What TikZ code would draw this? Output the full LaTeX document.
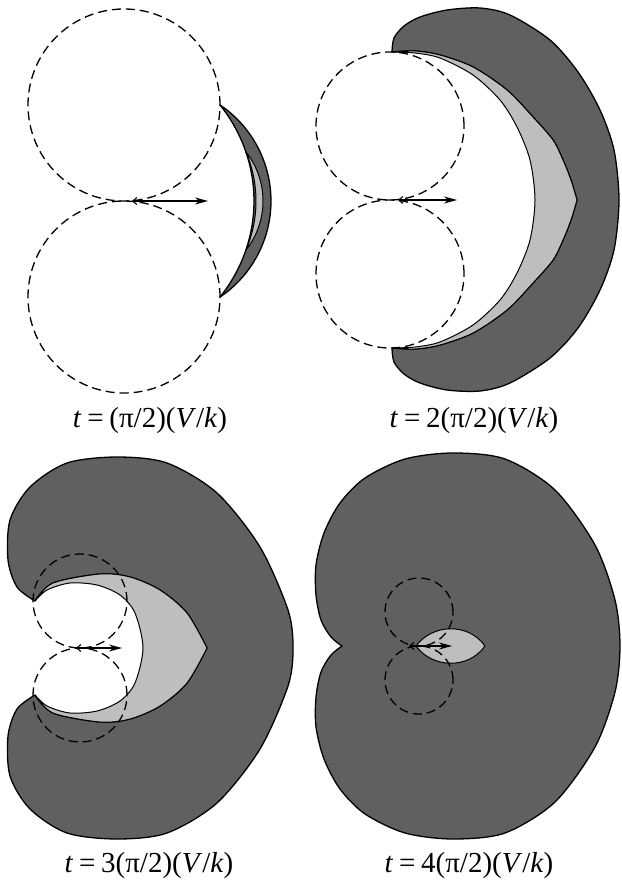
\documentclass[tikz,border=0pt]{standalone}
\usepackage{fontspec}
\setmainfont{Liberation Serif}
\usetikzlibrary{arrows.meta}
\definecolor{regiongrey}{HTML}{606060}
\definecolor{bandgrey}{HTML}{BEBEBE}
\tikzset{
  every picture/.style={line join=round, line cap=round, >=Stealth},
  region/.style={fill=regiongrey, draw=black, line width=1.3pt},
  band/.style={fill=bandgrey, draw=black, line width=1pt},
  orbit/.style={draw=black, line width=1.3pt, line cap=butt, dash pattern=on 9pt off 5pt},
  vel/.style={line width=1.1pt, {Straight Barb[length=4pt,width=7pt]}-{Stealth[length=13pt,width=7pt]}},
  caption/.style={font=\fontsize{29}{32}\selectfont, inner sep=0pt},
}

\begin{document}
\begin{tikzpicture}[x=1pt,y=-1pt]
\path[use as bounding box, fill=white] (0,0) rectangle (621,883);

\coordinate (c1a) at (124,105);
\coordinate (c1b) at (124,297);
\coordinate (s1) at (132,201);
\coordinate (h1) at (208,201);
\draw[region] plot[smooth, domain=-55.85:55.85, samples=30] ({155+116*cos(\x)},{201+116*sin(\x)})
  -- plot[smooth, domain=39:-39, samples=30] ({101.5+152.5*cos(\x)},{201+152.5*sin(\x)}) -- cycle;
\draw[band] plot[smooth, domain=-23:23, samples=20] ({131+125*cos(\x)},{201+125*sin(\x)})
  -- plot[smooth, domain=38.3:-38.3, samples=20] ({183.9+79.1*cos(\x)},{201+79.1*sin(\x)}) -- cycle;
\draw[orbit] (c1a) circle[radius=96pt];
\draw[orbit] (c1b) circle[radius=96pt];
\draw[vel] (s1) -- (h1);
\node[caption] (lab1) at (150,421) {\textit{t}\hspace{0.2em}=\hspace{0.2em}(π/2)(\textit{V}/\textit{k})};

\coordinate (c2a) at (390,126);
\coordinate (c2b) at (390,274);
\coordinate (s2) at (398,200);
\coordinate (h2) at (457,200);
\draw[region] plot[smooth] coordinates {(392,52) (394,38) (404,26) (420,17) (447,10) (480,8) (510,15) (550,40) (578,72) (600,110) (614,150) (619,200) (614,250) (600,290) (578,328) (550,358) (510,383) (480,391) (447,390) (420,383) (404,374) (394,362) (392,348)}
  -- plot[smooth] coordinates {(392,348) (415,349) (440,345) (473,333) (507,310) (533,283) (553,260) (563,240) (571,220) (577,200)}
  -- plot[smooth] coordinates {(577,200) (571,180) (563,160) (553,140) (533,117) (507,90) (473,67) (440,55) (415,51) (392,52)} -- cycle;
\draw[band] plot[smooth] coordinates {(392,52) (415,51) (440,55) (473,67) (507,90) (533,117) (553,140) (563,160) (571,180) (577,200)}
  -- plot[smooth] coordinates {(577,200) (571,220) (563,240) (553,260) (533,283) (507,310) (473,333) (440,345) (415,349) (392,348)}
  -- plot[smooth] coordinates {(392,348) (415,347) (440,342) (473,325) (500,300) (517,273) (530,240) (535,200) (530,160) (517,127) (500,100) (473,75) (440,58) (415,53) (392,52)} -- cycle;
\draw[orbit] (c2a) circle[radius=74pt];
\draw[orbit] (c2b) circle[radius=74pt];
\draw[vel] (s2) -- (h2);
\node[caption] (lab2) at (474,421) {\textit{t}\hspace{0.2em}=\hspace{0.2em}2(π/2)(\textit{V}/\textit{k})};

\coordinate (c3a) at (80,601);
\coordinate (c3b) at (80,695);
\coordinate (s3) at (76,648);
\coordinate (h3) at (122,648);
\draw[region] plot[smooth] coordinates {(35,601) (17,587) (8,560) (10,520) (30,487) (67,463) (117,457) (167,463) (217,493) (260,547) (288,610) (293,648) (288,686) (260,749) (217,803) (167,833) (117,839) (67,833) (30,809) (10,776) (8,736) (17,709) (35,695)}
  -- plot[smooth] coordinates {(35,695) (53,713) (100,722) (130,719) (160,706) (187,683) (207,648)}
  -- plot[smooth] coordinates {(207,648) (187,613) (160,590) (130,577) (100,574) (53,583) (35,601)} -- cycle;
\draw[band] plot[smooth] coordinates {(35,601) (53,583) (100,574) (130,577) (160,590) (187,613) (207,648)}
  -- plot[smooth] coordinates {(207,648) (187,683) (160,706) (130,719) (100,722) (53,713) (35,695)}
  -- plot[smooth] coordinates {(35,695) (47,706) (70,713) (97,711) (120,701) (135,683) (143,648) (135,613) (120,595) (97,585) (70,583) (47,590) (35,601)} -- cycle;
\draw[orbit] (c3a) circle[radius=47pt];
\draw[orbit] (c3b) circle[radius=47pt];
\draw[vel] (s3) -- (h3);
\node[caption] (lab3) at (149,866) {\textit{t}\hspace{0.2em}=\hspace{0.2em}3(π/2)(\textit{V}/\textit{k})};

\coordinate (c4a) at (419,612);
\coordinate (c4b) at (419,680);
\coordinate (s4) at (409,646);
\coordinate (h4) at (452,646);
\draw[region] plot[smooth] coordinates {(342,646) (331,637) (321,620) (316,595) (316,565) (324,533) (340,503) (365,478) (405,459) (453,453) (505,459) (555,490) (595,545) (615,600) (620,646) (615,692) (595,747) (555,802) (505,833) (453,839) (405,833) (365,814) (340,789) (324,759) (316,727) (316,697) (321,672) (331,655) (342,646)} -- cycle;
\draw[band] (416,646) .. controls (432,624) and (468,622) .. (485,646) .. controls (468,670) and (432,668) .. (416,646) -- cycle;
\draw[orbit] (c4a) circle[radius=34pt];
\draw[orbit] (c4b) circle[radius=34pt];
\draw[vel] (s4) -- (h4);
\node[caption] (lab4) at (469,866) {\textit{t}\hspace{0.2em}=\hspace{0.2em}4(π/2)(\textit{V}/\textit{k})};
\end{tikzpicture}
\end{document}
